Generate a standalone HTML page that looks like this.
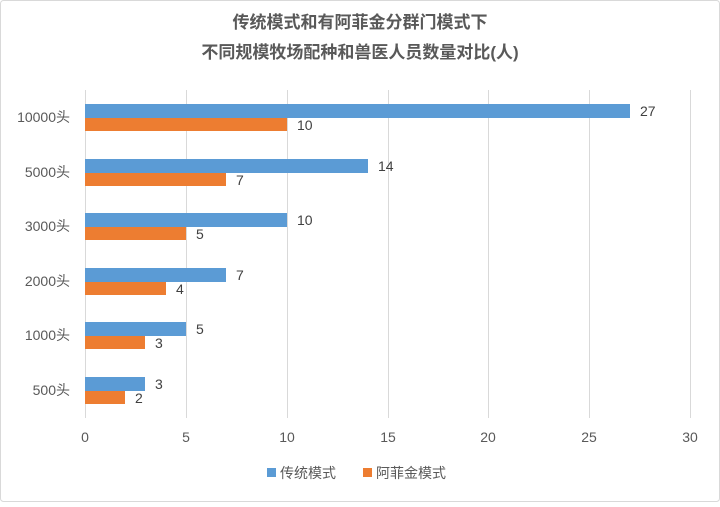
<!DOCTYPE html>
<html><head><meta charset="utf-8"><style>
body{margin:0;background:#fff;}
svg text{font-family:"Liberation Sans","Noto Sans CJK SC",sans-serif;}
</style></head><body>
<svg width="720" height="502" xmlns="http://www.w3.org/2000/svg">
<rect x="0.5" y="0.5" width="719" height="501" rx="3" fill="#fff" stroke="#d9d9d9"/>
<text x="360" y="28" text-anchor="middle" font-size="17" font-weight="bold" fill="#595959">传统模式和有阿菲金分群门模式下</text>
<text x="360" y="58" text-anchor="middle" font-size="17" font-weight="bold" fill="#595959">不同规模牧场配种和兽医人员数量对比(人)</text>
<g stroke="#d9d9d9" stroke-width="1">
<line x1="186.5" y1="90" x2="186.5" y2="418"/>
<line x1="287.5" y1="90" x2="287.5" y2="418"/>
<line x1="388.5" y1="90" x2="388.5" y2="418"/>
<line x1="488.5" y1="90" x2="488.5" y2="418"/>
<line x1="589.5" y1="90" x2="589.5" y2="418"/>
<line x1="690.5" y1="90" x2="690.5" y2="418"/>
<line x1="85.5" y1="90" x2="85.5" y2="418"/>
</g>
<g fill="#5b9bd5">
<rect x="85" y="104" width="545" height="14"/>
<rect x="85" y="159" width="283" height="14"/>
<rect x="85" y="213" width="202" height="14"/>
<rect x="85" y="268" width="141" height="14"/>
<rect x="85" y="322" width="101" height="14"/>
<rect x="85" y="377" width="60" height="14"/>
</g>
<g fill="#ed7d31">
<rect x="85" y="118" width="202" height="13"/>
<rect x="85" y="173" width="141" height="13"/>
<rect x="85" y="227" width="101" height="13"/>
<rect x="85" y="282" width="81" height="13"/>
<rect x="85" y="336" width="60" height="13"/>
<rect x="85" y="391" width="40" height="13"/>
</g>
<g font-size="14" fill="#404040">
<text x="640" y="116">27</text><text x="297" y="130">10</text>
<text x="378" y="171">14</text><text x="236" y="185">7</text>
<text x="297" y="225">10</text><text x="196" y="239">5</text>
<text x="236" y="280">7</text><text x="176" y="294">4</text>
<text x="196" y="334">5</text><text x="155" y="348">3</text>
<text x="155" y="389">3</text><text x="135" y="403">2</text>
</g>
<g font-size="14" fill="#595959" text-anchor="end">
<text x="70" y="122">10000头</text>
<text x="70" y="177">5000头</text>
<text x="70" y="231">3000头</text>
<text x="70" y="286">2000头</text>
<text x="70" y="340">1000头</text>
<text x="70" y="395">500头</text>
</g>
<g font-size="14" fill="#595959" text-anchor="middle">
<text x="85" y="442">0</text><text x="186" y="442">5</text><text x="287" y="442">10</text>
<text x="388" y="442">15</text><text x="488" y="442">20</text><text x="589" y="442">25</text><text x="690" y="442">30</text>
</g>
<rect x="267" y="468" width="9" height="9" fill="#5b9bd5"/>
<text x="280" y="478" font-size="14" fill="#595959">传统模式</text>
<rect x="363" y="468" width="9" height="9" fill="#ed7d31"/>
<text x="376" y="478" font-size="14" fill="#595959">阿菲金模式</text>
</svg>
</body></html>
